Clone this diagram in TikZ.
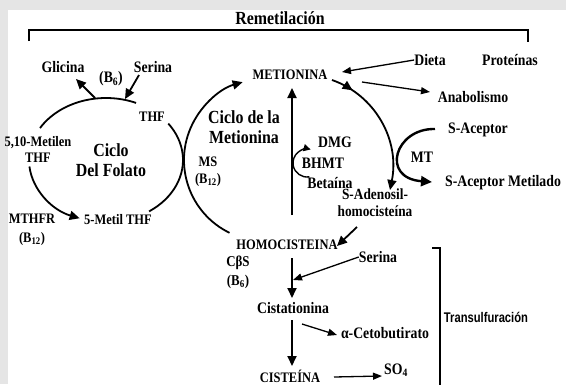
\documentclass[tikz,border=0pt]{standalone}
\usepackage{fontspec}
\setmainfont[FakeStretch=0.86]{Liberation Serif}
\newfontfamily\transfont[FakeStretch=0.8]{Liberation Sans Bold}
\usetikzlibrary{arrows.meta}
\usetikzlibrary{decorations.markings}

\begin{document}
\begin{tikzpicture}[x=1pt,y=-1pt,
    lbl/.style={font=\fontsize{16}{17}\selectfont\bfseries,inner sep=0pt,align=center},
    caps/.style={font=\fontsize{14.5}{16}\selectfont\bfseries,inner sep=0pt,align=center},
    title/.style={font=\fontsize{18.5}{20}\selectfont\bfseries,inner sep=0pt,align=center},
    arr/.style={-{Triangle[length=10pt,width=9pt]},line width=1.8pt},
    thin arr/.style={-{Triangle[length=9pt,width=7pt]},line width=1.3pt},
    cyc/.style={line width=1.8pt}]
  \useasboundingbox (0,0) rectangle (566,384);
  \fill[black!10] (0,0) rectangle (566,384);
  \fill[white] (8,10) rectangle (566,384);

  % remetilacion
  \node[title] (remet) at (280,18) {Remetilación};
  \draw[line width=1.3pt] (29,41) |- (528,30) -- (528,42);

  % ciclo del folato
  \node[lbl] (glic) at (63,67) {Glicina};
  \node[lbl] (serA) at (153,67) {Serina};
  \node[lbl] (b6a) at (111,79) {(B\textsubscript{6})};
  \node[caps] (thf) at (152,117) {THF};
  \node[caps] (metilen) at (38,149) {5,10-Metilen\\THF};
  \node[title] (folato) at (111,160) {Ciclo\\Del Folato};
  \node[caps] (metthf) at (118,220) {5-Metil THF};
  \node[caps,font=\fontsize{14.5}{19}\selectfont\bfseries] (mthfr) at (32,230) {MTHFR\\(B\textsubscript{12})};
  \coordinate (fc) at (106,160);
  \coordinate (glicTip) at (76,79);
  \coordinate (glicOut) at (95,98);
  \coordinate (serOut) at (139,75);
  \coordinate (serTip) at (125,99);
  \draw[cyc] (fc) ++(211:77 and 62) arc[start angle=211,end angle=293,x radius=77,y radius=62];
  \draw[cyc] (fc) ++(-36:77 and 62) arc[start angle=-36,end angle=56,x radius=77,y radius=62];
  \draw[cyc,arr] (fc) ++(174:77 and 62) arc[start angle=174,end angle=110,x radius=77,y radius=62];
  \draw[arr] (glicOut) -- (glicTip);
  \draw[arr] (serOut) -- (serTip);

  % ciclo de la metionina
  \node[title] (ciclomet) at (244,127) {Ciclo de la\\Metionina};
  \node[caps,font=\fontsize{14.5}{17}\selectfont\bfseries] (ms) at (208,172) {MS\\(B\textsubscript{12})};
  \node[caps] (met) at (290,75) {METIONINA};
  \node[caps] (homo) at (287,245) {HOMOCISTEINA};
  \coordinate (mc) at (265,160);
  \coordinate (upFrom) at (292,215);
  \coordinate (upTo) at (292,88);
  \draw[cyc,arr] (mc) ++(116:81) arc[start angle=116,end angle=254,radius=81];
  \draw[arr,line width=2pt] (upFrom) -- (upTo);

  % BHMT
  \node[lbl] (dmg) at (335,142) {DMG};
  \node[lbl] (bhmt) at (323,163) {BHMT};
  \node[lbl] (beta) at (330,183) {Betaína};
  \coordinate (bc) at (307,163);
  \draw[line width=1.4pt,-{Triangle[length=7pt,width=7pt]}] (bc) ++(80:14) arc[start angle=80,end angle=285,radius=14];

  % dieta, anabolismo
  \node[lbl] (dieta) at (430,60) {Dieta};
  \node[lbl] (prot) at (510,60) {Proteínas};
  \node[lbl] (anab) at (473,97) {Anabolismo};
  \coordinate (dietaTip) at (342,72);
  \coordinate (anabFrom) at (362,82);
  \coordinate (anabTip) at (430,92);
  \draw[thin arr] (dieta.west) -- (dietaTip);
  \draw[thin arr] (anabFrom) -- (anabTip);

  % metilacion
  \node[lbl] (sacep) at (478,130) {S-Aceptor};
  \node[lbl] (mt) at (422,157) {MT};
  \node[lbl] (sacepmet) at (503,183) {S-Aceptor Metilado};
  \node[lbl,font=\fontsize{15.5}{17}\selectfont\bfseries] (sah) at (375,203) {S-Adenosil-\\homocisteína};
  \coordinate (metOut) at (332,80);
  \coordinate (sahTip) at (390,190);
  \coordinate (mtFrom) at (435,129);
  \coordinate (mtTip) at (432,182);
  \draw[cyc,arr,postaction={decorate},
    decoration={markings,mark=at position 0.17 with {\arrow{Triangle[length=10pt,width=9pt]}}}]
    (metOut) .. controls (375,95) and (400,140) .. (sahTip);
  \draw[line width=2.4pt,-{Triangle[length=11pt,width=10pt]}] (mtFrom) .. controls (395,128) and (380,178) .. (mtTip);
  \coordinate (sahOut) at (357,227);
  \coordinate (homoIn) at (337,246);
  \draw[arr] (sahOut) -- (homoIn);

  % transulfuracion
  \node[lbl,font=\fontsize{15}{19}\selectfont\bfseries] (cbs) at (238,272) {CβS\\(B\textsubscript{6})};
  \node[lbl] (serB) at (378,257) {Serina};
  \node[lbl] (cist) at (293,308) {Cistationina};
  \node[lbl] (ceto) at (385,333) {α-Cetobutirato};
  \node[caps] (cisteina) at (290,376) {CISTEÍNA};
  \node[lbl] (so4) at (396,370) {SO\textsubscript{4}};
  \node[font=\transfont\fontsize{14}{15}\selectfont,inner sep=0pt] (trans) at (486,317) {Transulfuración};
  \coordinate (homoOut) at (292,258);
  \coordinate (cistIn) at (292,298);
  \coordinate (serBTip) at (293,280);
  \coordinate (cistOut) at (292,320);
  \coordinate (cisteinaIn) at (292,366);
  \coordinate (cetoFrom) at (302,324);
  \coordinate (cetoTip) at (337,335);
  \coordinate (so4From) at (334,377);
  \coordinate (so4Tip) at (382,376);
  \draw[arr] (homoOut) -- (cistIn);
  \draw[thin arr] (serB.west) -- (serBTip);
  \draw[arr] (cistOut) -- (cisteinaIn);
  \draw[thin arr] (cetoFrom) -- (cetoTip);
  \draw[thin arr] (so4From) -- (so4Tip);
  \draw[line width=1.3pt] (432,248) -- (440,248) -- (440,386);
\end{tikzpicture}
\end{document}
